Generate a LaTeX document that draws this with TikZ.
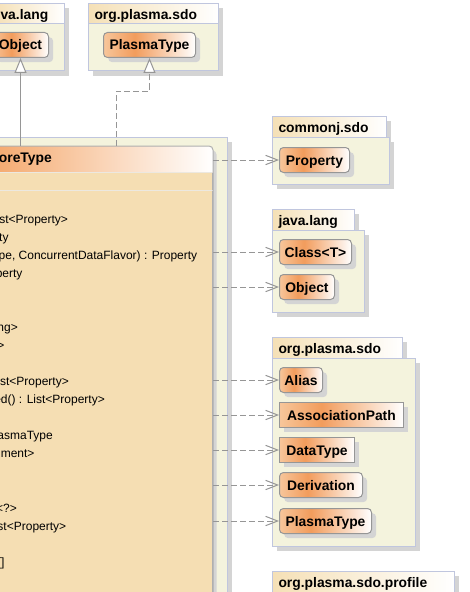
\documentclass[tikz,border=0pt]{standalone}
\usepackage{fontspec}
\setmainfont{Liberation Sans}
\usetikzlibrary{arrows.meta,shadows}
\definecolor{cream}{RGB}{244,243,221}
\definecolor{packline}{RGB}{192,198,222}
\definecolor{shadowc}{RGB}{212,212,212}
\definecolor{wheatc}{RGB}{245,222,179}
\definecolor{nodeline}{RGB}{150,150,150}
\definecolor{classline}{RGB}{175,175,175}
\definecolor{divline}{RGB}{236,232,224}
\definecolor{nodeL}{RGB}{247,198,155}
\definecolor{nodeM}{RGB}{242,156,92}
\definecolor{tabL}{RGB}{245,224,182}
\definecolor{hdrL}{RGB}{245,172,115}
\definecolor{arrowc}{RGB}{150,150,150}
\pgfdeclarehorizontalshading{nodesh}{100bp}{color(0bp)=(nodeL); color(25bp)=(nodeL); color(42bp)=(nodeM); color(75bp)=(white); color(100bp)=(white)}
\newcommand\BFnt{\fontsize{10.4}{12}\selectfont\bfseries}
\newcommand\RFnt{\fontsize{9}{11}\selectfont}
\begin{document}
\begin{tikzpicture}[x=0.75pt,y=-0.75pt,line width=0.75pt,
  shad/.style={general shadow={fill=shadowc, shadow xshift=3.5pt, shadow yshift=-3.5pt}},
  pkgb/.style={draw=packline, fill=cream, shad},
  tabn/.style={draw=packline, left color=tabL, right color=white, anchor=north west,
    inner xsep=4.5pt, inner ysep=0pt, minimum height=15.75pt, text height=9.3pt,
    text depth=1.5pt, font=\BFnt, align=left, shad},
  cls/.style={draw=nodeline, shade, shading=nodesh, rounded corners=3pt, inner sep=0pt,
    font=\BFnt, minimum height=18.75pt, text height=9pt, text depth=1.5pt,
    anchor=north west, shad},
  op/.style={font=\RFnt, inner sep=0pt, anchor=base east},
  dep/.style={draw=arrowc, dash pattern=on 4.5pt off 2.25pt, -{Straight Barb[length=9pt,width=7pt]}},
  gen/.style={draw=arrowc, -{Triangle[length=11.25pt,width=9pt,fill=white]}},
  real/.style={gen, dash pattern=on 4.5pt off 2.25pt}]
\useasboundingbox (0,0) rectangle (469,592);
\clip (0,0) rectangle (469,592);
\fill[white] (0,0) rectangle (469,592);

% main package and class
\path[pkgb] (-10,137) rectangle (227,700);
\node[draw=classline, fill=wheatc, rounded corners=3pt, minimum width=300pt,
  minimum height=450pt, anchor=north east, inner sep=0pt,
  general shadow={fill=shadowc, shadow xshift=3pt, shadow yshift=-3pt}] (main) at (213,146) {};
\begin{scope}
  \clip[rounded corners=3pt] (main.south west) rectangle (main.north east);
  \fill[hdrL] (main.north west) rectangle (0,172);
  \shade[left color=hdrL, right color=white] (0,146) rectangle (213,172);
\end{scope}
\draw[divline] ([yshift=-19.5pt]main.north west) -- ([yshift=-19.5pt]main.north east);
\draw[divline] ([yshift=-33pt]main.north west) -- ([yshift=-33pt]main.north east);
\draw[classline, rounded corners=3pt] (main.south west) rectangle (main.north east);
\node[font=\BFnt, inner sep=0pt, anchor=base east] (hdr) at (52.3,162.3) {oreType};

\node[op] (o0) at (68.5,223.3) {st<Property>};
\node[op] (o1) at (9,241.3) {ty};
\node[op] (o2) at (197.7,259.4) {pe, ConcurrentDataFlavor) : Property};
\node[op] (o3) at (23,277.4) {perty};
\node[op] (o6) at (18.3,331.5) {ng>};
\node[op] (o7) at (5,349.6) {>};
\node[op] (o9) at (69.3,385.7) {st<Property>};
\node[op] (o10) at (105.3,403.7) {ed() : List<Property>};
\node[op] (o12) at (53.3,439.8) {asmaType};
\node[op] (o13) at (35,457.8) {ment>};
\node[op] (o16) at (17.3,512.0) {<?>};
\node[op] (o17) at (66.7,530.0) {st<Property>};
\node[op] (o19) at (5,566.1) {[]};

% top packages
\node[tabn, text width=43.5pt] (tjl) at (-6,3) {va.lang};
\path[pkgb] (-6,24) rectangle (64,71);
\node[cls, minimum width=42pt] (ob1) at (-8,32) {Object};
\node[tabn, text width=88.5pt] (tps) at (88,3) {org.plasma.sdo};
\path[pkgb] (88,24) rectangle (218,71);
\node[cls, minimum width=69pt] (pt1) at (103,32) {PlasmaType};

% right packages
\node[tabn, text width=76.5pt] (tcj) at (272,116) {commonj.sdo};
\path[pkgb] (272,137) rectangle (389,184);
\node[cls, minimum width=52.5pt] (prop) at (279,147) {Property};

\node[tabn, text width=52.5pt] (tjl2) at (272,209) {java.lang};
\path[pkgb] (272,230) rectangle (364,312);
\node[cls, minimum width=54pt] (clsT) at (279,239) {Class<T>};
\node[cls, minimum width=41.25pt] (ob2) at (279,274) {Object};

\node[tabn, text width=88.5pt] (tps2) at (272,337) {org.plasma.sdo};
\path[pkgb] (272,358) rectangle (415,546);
\node[cls, minimum width=32.25pt] (alias) at (279,367) {Alias};
\node[cls, sharp corners, minimum width=93pt] (assoc) at (279,402) {AssociationPath};
\node[cls, sharp corners, minimum width=56.25pt] (dt) at (279,437) {DataType};
\node[cls, minimum width=62.25pt] (deriv) at (279,472) {Derivation};
\node[cls, minimum width=69pt] (pt2) at (279,508) {PlasmaType};

\node[tabn, text width=127.5pt] (tprof) at (272,571) {org.plasma.sdo.profile};

% connectors
\foreach \n in {prop,clsT,ob2,alias,assoc,dt,deriv,pt2}
  \draw[dep] (\n.west -| main.east) -- (\n.west);
\draw[gen] (ob1.south |- main.north) -- (ob1.south);
\coordinate (rs) at (116,146);
\draw[real] (rs) -- ++(0,-55) -| (pt1.south);
\end{tikzpicture}
\end{document}
